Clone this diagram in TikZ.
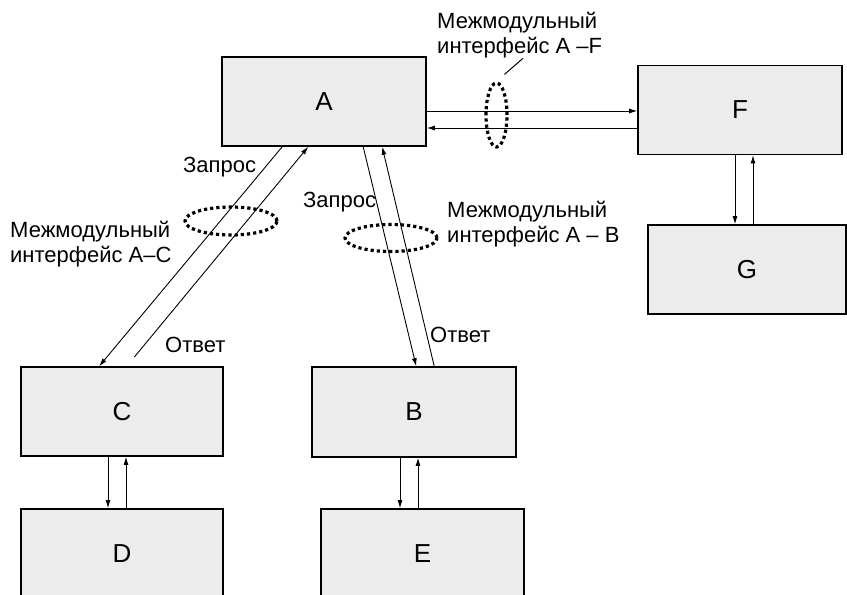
\documentclass[tikz,border=0pt]{standalone}
\usepackage{fontspec}
\setmainfont{Liberation Sans}
\usetikzlibrary{arrows.meta,shapes.geometric}
\begin{document}
\begin{tikzpicture}[
  x=1pt, y=-1pt,
  module/.style={draw, fill=gray!15, line width=1.6pt, minimum width=204pt,
    minimum height=89pt, inner sep=0pt, font=\fontsize{26}{30}\selectfont},
  link/.style={-{Latex[length=8pt,width=5pt]}, line width=0.9pt},
  iface/.style={ellipse, draw, line width=3.2pt, dash pattern=on 3.2pt off 3pt, inner sep=0pt},
  note/.style={inner sep=0pt, align=left, font=\fontsize{22}{25}\selectfont}
]
  \useasboundingbox (0,0) rectangle (847,595);
  \clip (0,0) rectangle (847,595);

  \node[module] (A) at (324,101.5) {A};
  \node[module] (F) at (740,110) {F};
  \node[module, minimum width=198pt] (G) at (747,269.5) {G};
  \node[module, minimum width=202pt] (C) at (122,411.5) {C};
  \node[module, minimum height=90pt] (B) at (414,412) {B};
  \node[module, minimum width=202pt] (D) at (122,553.5) {D};
  \node[module, minimum width=203pt] (E) at (422.5,553.5) {E};

  \draw[link] ([xshift=61pt]A.south west) -- ([xshift=79pt]C.north west);
  \draw[link] ([xshift=114pt,yshift=9pt]C.north west) -- ([xshift=87pt]A.south west);
  \draw[link] ([xshift=142pt]A.south west) -- ([xshift=105pt]B.north west);
  \draw[link] ([xshift=123pt]B.north west) -- ([xshift=161pt]A.south west);
  \draw[link] ([yshift=-9.5pt]A.east) -- ([yshift=-9.5pt]A.east -| F.west);
  \draw[link] ([yshift=-18pt]F.west) -- ([yshift=-18pt]F.west -| A.east);
  \draw[link] ([xshift=-5pt]F.south) -- ([xshift=-5pt]F.south |- G.north);
  \draw[link] ([xshift=13pt]F.south |- G.north) -- ([xshift=13pt]F.south);
  \draw[link] ([xshift=-14pt]C.south) -- ([xshift=-14pt]C.south |- D.north);
  \draw[link] ([xshift=4pt]C.south |- D.north) -- ([xshift=4pt]C.south);
  \draw[link] ([xshift=-14pt]B.south) -- ([xshift=-14pt]B.south |- E.north);
  \draw[link] ([xshift=4pt]B.south |- E.north) -- ([xshift=4pt]B.south);

  \node[note, anchor=base west] (qAC) at (183,172) {Запрос};
  \node[note, anchor=base west] (qAB) at (303,207) {Запрос};
  \node[note, anchor=base west] (rAC) at (165,352) {Ответ};
  \node[note, anchor=base west] (rAB) at (430,342) {Ответ};
  \node[note, anchor=north west] (lblAC) at (10,221) {Межмодульный\\интерфейс A–C};
  \node[note, anchor=north west] (lblAB) at (447,201) {Межмодульный\\интерфейс A – B};
  \node[note, anchor=north west] (lblAF) at (437,12) {Межмодульный\\интерфейс A –F};

  \node[iface, minimum width=92pt, minimum height=28pt] (ifAC) at (231,221) {};
  \node[iface, minimum width=92pt, minimum height=27pt] (ifAB) at (391,238) {};
  \node[iface, minimum width=21pt, minimum height=64pt] (ifAF) at (496.5,115) {};
  \draw[line width=1pt] ([xshift=8pt,yshift=7pt]ifAF.north) -- ([xshift=86pt]lblAF.south west);
\end{tikzpicture}
\end{document}
